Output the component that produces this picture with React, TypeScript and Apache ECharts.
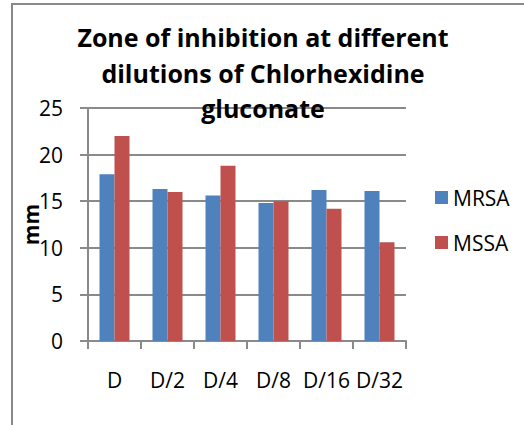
import React, { useEffect, useRef } from "react";
import * as echarts from "echarts";

const categories = ["D", "D/2", "D/4", "D/8", "D/16", "D/32"];
const mrsa = [17.9, 16.3, 15.6, 14.8, 16.2, 16.1];
const mssa = [22.0, 16.0, 18.8, 15.0, 14.2, 10.6];
const seriesNames = ["MRSA", "MSSA"];
const titleText = "Zone of inhibition at different\ndilutions of Chlorhexidine\ngluconate";
const yAxisName = "mm";

const FONT = '"Open Sans", sans-serif';
const GREY = "#8a8a8a";

export default function App() {
  const ref = useRef<HTMLDivElement>(null);
  useEffect(() => {
    if (!ref.current) return;
    const chart = echarts.init(ref.current, undefined, { renderer: "svg" });
    chart.setOption({
      animation: false,
      backgroundColor: "#ffffff",
      textStyle: { fontFamily: FONT, color: "#000" },
      title: {
        text: titleText,
        left: 258,
        top: 14,
        textAlign: "center",
        textStyle: {
          fontFamily: FONT,
          fontWeight: "bold",
          fontSize: 25,
          lineHeight: 35.7,
          color: "#000",
        },
      },
      graphic: [
        {
          type: "rect",
          shape: { x: 12, y: 4, width: 700, height: 600 },
          style: { fill: "none", stroke: GREY, lineWidth: 2 },
          silent: true,
          z: -1,
        },
      ],
      legend: {
        orient: "vertical",
        left: 430,
        top: 182,
        itemWidth: 13,
        itemHeight: 13,
        itemGap: 24,
        icon: "rect",
        data: seriesNames,
        textStyle: { fontFamily: FONT, fontSize: 21, lineHeight: 21, color: "#000" },
      },
      grid: { left: 88, top: 108, width: 318, height: 233, containLabel: false },
      xAxis: {
        type: "category",
        data: categories,
        axisLine: { lineStyle: { color: GREY, width: 2 } },
        axisTick: { show: true, length: 8, lineStyle: { color: GREY, width: 2 } },
        axisLabel: { interval: 0, margin: 28, fontSize: 21, fontFamily: FONT, color: "#000" },
      },
      yAxis: {
        type: "value",
        min: 0,
        max: 25,
        interval: 5,
        name: yAxisName,
        nameLocation: "middle",
        nameRotate: 90,
        nameGap: 47,
        nameMoveOverlap: false,
        nameTextStyle: { fontFamily: FONT, fontWeight: "bold", fontSize: 21, color: "#000" },
        axisLine: { show: true, lineStyle: { color: GREY, width: 2 } },
        axisTick: { show: true, length: 8, lineStyle: { color: GREY, width: 2 } },
        axisLabel: { margin: 25, fontSize: 21, fontFamily: FONT, color: "#000" },
        splitLine: { show: true, lineStyle: { color: GREY, width: 2 } },
      },
      series: [
        {
          name: seriesNames[0],
          type: "bar",
          data: mrsa,
          barWidth: 15,
          barGap: "0%",
          itemStyle: { color: "#4F81BD" },
        },
        {
          name: seriesNames[1],
          type: "bar",
          data: mssa,
          barWidth: 15,
          barGap: "0%",
          itemStyle: { color: "#C0504D" },
        },
      ],
    });
    return () => chart.dispose();
  }, []);
  return (
    <div
      ref={ref}
      style={{ position: "absolute", left: 0, top: 0, width: 524, height: 425 }}
    />
  );
}
